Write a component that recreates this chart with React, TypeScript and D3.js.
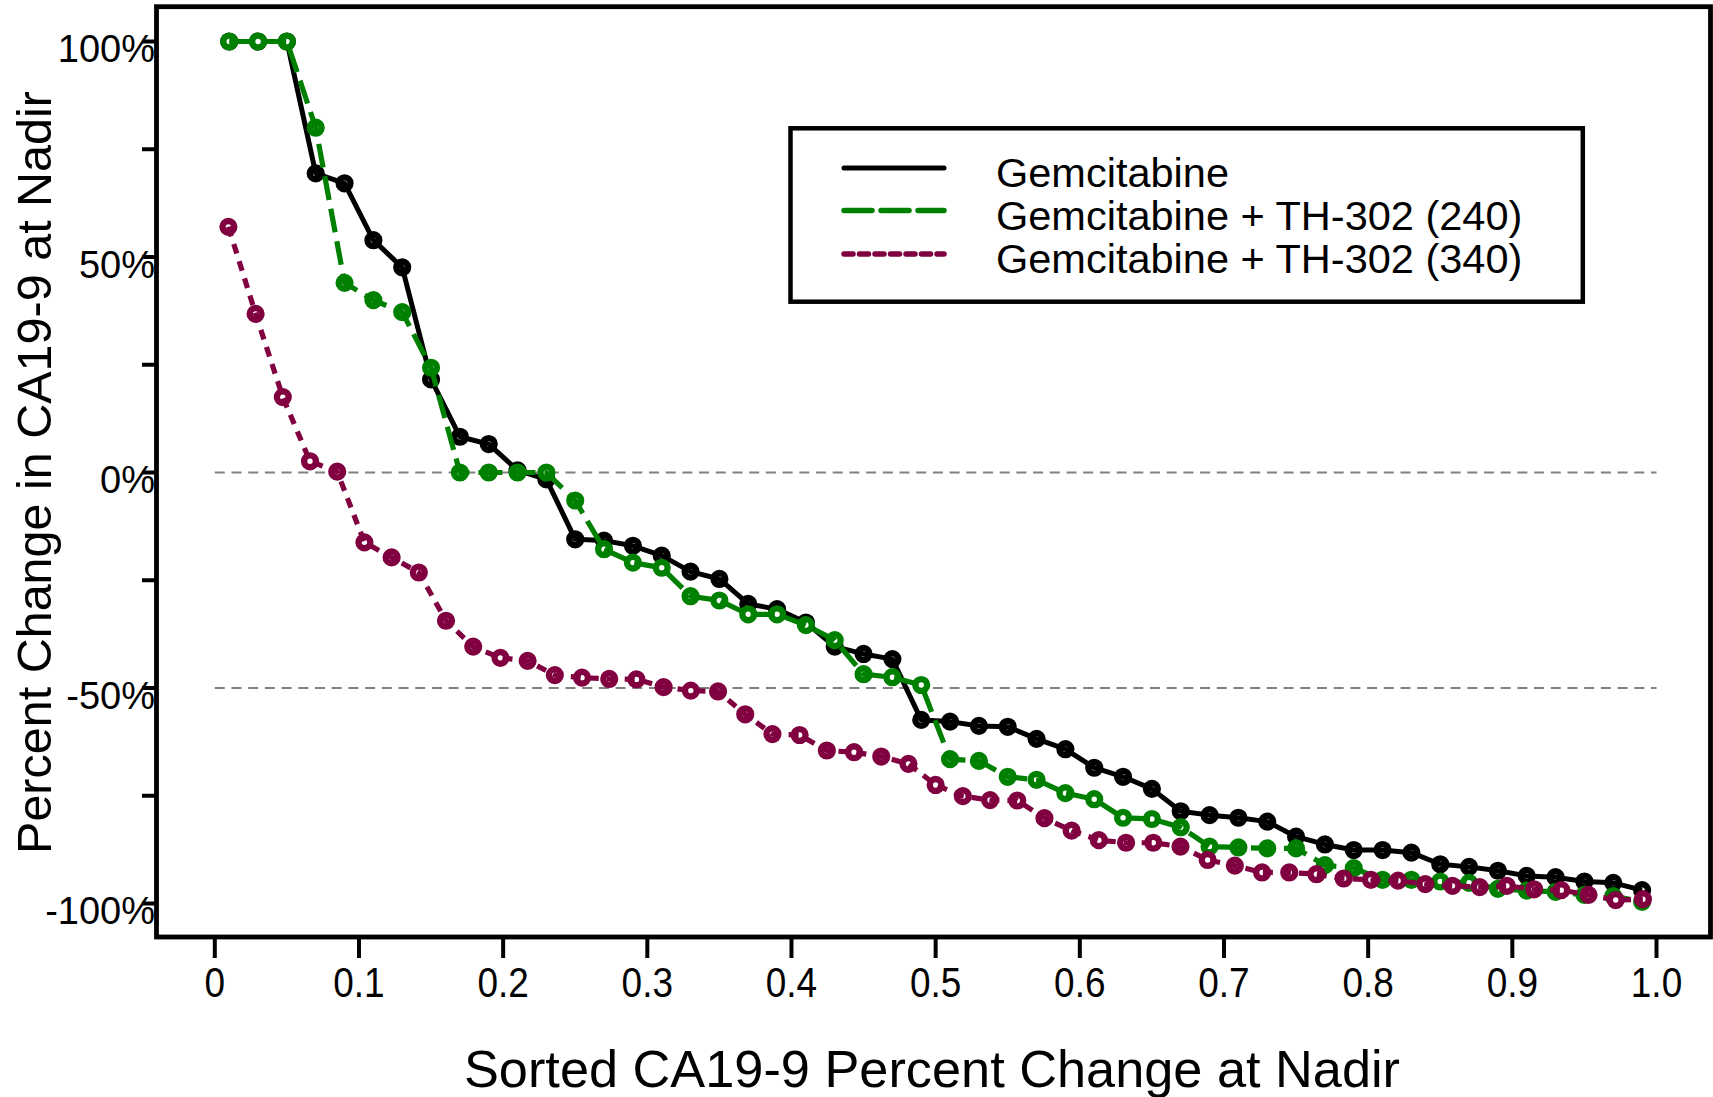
import React from 'react';
import * as d3 from 'd3';

const W = 1713;
const H = 1097;

const xTickValues = [0, 0.1, 0.2, 0.3, 0.4, 0.5, 0.6, 0.7, 0.8, 0.9, 1.0];
const xTickLabels = ['0', '0.1', '0.2', '0.3', '0.4', '0.5', '0.6', '0.7', '0.8', '0.9', '1.0'];
const yTickValues = [100, 75, 50, 25, 0, -25, -50, -75, -100];
const yLabelValues = [100, 50, 0, -50, -100];
const yLabelTexts = ['100%', '50%', '0%', '-50%', '-100%'];
const refLines = [0, -50];

const seriesNames = ['Gemcitabine', 'Gemcitabine + TH-302 (240)', 'Gemcitabine + TH-302 (340)'];
const seriesColors = ['#000000', '#008000', '#800040'];

const gemcitabine = [
  100, 100, 100, 69.4, 67.1, 53.9, 47.6, 21.6, 8.3, 6.6,
  0.5, -1.6, -15.5, -15.8, -17.0, -19.3, -23.0, -24.7, -30.5, -31.7,
  -34.8, -40.4, -42.1, -43.3, -57.4, -57.8, -58.8, -59.0, -61.8, -64.2,
  -68.5, -70.6, -73.4, -78.6, -79.5, -80.1, -81.0, -84.5, -86.3, -87.6,
  -87.6, -88.2, -90.9, -91.5, -92.4, -93.6, -93.9, -94.9, -95.2, -96.9,
];

const th302_240 = [
  100, 100, 100, 80.0, 44.0, 40.0, 37.2, 24.3, 0, 0,
  0, 0, -6.5, -17.8, -20.9, -22.1, -28.7, -29.7, -32.9, -32.9,
  -35.4, -38.9, -46.8, -47.5, -49.3, -66.5, -66.9, -70.6, -71.3, -74.4,
  -75.8, -80.1, -80.4, -82.3, -86.8, -87.0, -87.2, -87.2, -91.1, -91.8,
  -94.5, -94.5, -94.9, -95.2, -96.6, -97.0, -97.3, -98.0, -98.3, -99.6,
];

const th302_340 = [
  57.0, 36.8, 17.5, 2.6, 0.2, -16.2, -19.7, -23.2, -34.4, -40.4,
  -43.0, -43.7, -47.0, -47.6, -47.9, -48.0, -49.8, -50.6, -50.8, -56.1,
  -60.7, -60.9, -64.5, -64.9, -65.9, -67.6, -72.5, -75.1, -76.0, -76.1,
  -80.2, -83.1, -85.3, -85.9, -85.9, -86.8, -89.9, -91.2, -92.8, -92.8,
  -93.2, -94.2, -94.5, -94.7, -95.5, -95.9, -96.2, -95.9, -96.7, -96.9,
  -98.0, -99.2, -99.0,
];

const seriesData = [gemcitabine, th302_240, th302_340];
const plotDash = ['none', '24 9', '10 8'];
const legendDash = ['none', '28 9', '9 6.5'];

const FONT = '"Liberation Sans", Arial, Helvetica, sans-serif';

export default function App() {
  const x = d3.scaleLinear().domain([0, 1]).range([214.8, 1656.5]);
  const y = d3.scaleLinear().domain([-100, 100]).range([903.5, 41.5]);

  const frame = { left: 156.5, top: 6.7, right: 1710.5, bottom: 937 };

  const lineFor = (vals: number[]) => {
    const n = vals.length;
    return d3
      .line<number>()
      .x((_, i) => x((i + 0.5) / n))
      .y((d) => y(d))(vals) as string;
  };

  const legend = { x: 790.5, y: 128.3, w: 792.3, h: 173.4 };
  const legendRows = [168, 210.5, 254];
  const legendBaselines = [187, 230, 273];

  return (
    <svg
      width={W}
      height={H}
      viewBox={`0 0 ${W} ${H}`}
      style={{ position: 'absolute', left: 0, top: 0, background: '#fff' }}
      fontFamily={FONT}
    >
      <rect x={0} y={0} width={W} height={H} fill="#fff" />

      {/* reference dashed lines */}
      {refLines.map((v) => (
        <line
          key={`ref${v}`}
          x1={x(0)}
          x2={x(1)}
          y1={y(v)}
          y2={y(v)}
          stroke="#808080"
          strokeWidth={2.2}
          strokeDasharray="10 6.7"
        />
      ))}

      {/* series */}
      {seriesData.map((vals, si) => {
        const n = vals.length;
        return (
          <g key={`s${si}`}>
            {vals.map((v, i) => (
              <circle
                key={i}
                cx={x((i + 0.5) / n)}
                cy={y(v)}
                r={5.9}
                fill="#fff"
                stroke={seriesColors[si]}
                strokeWidth={6.4}
              />
            ))}
            <path
              d={lineFor(vals)}
              fill="none"
              stroke={seriesColors[si]}
              strokeWidth={si === 0 ? 5 : 5.2}
              strokeDasharray={plotDash[si]}
              strokeLinejoin="round"
            />
          </g>
        );
      })}

      {/* frame */}
      <rect
        x={frame.left}
        y={frame.top}
        width={frame.right - frame.left}
        height={frame.bottom - frame.top}
        fill="none"
        stroke="#000"
        strokeWidth={4.8}
      />

      {/* y ticks */}
      {yTickValues.map((v) => (
        <line key={`yt${v}`} x1={142} x2={frame.left} y1={y(v)} y2={y(v)} stroke="#000" strokeWidth={4} />
      ))}
      {yLabelValues.map((v, i) => (
        <text key={`yl${v}`} x={155} y={y(v) + 20.5} textAnchor="end" fontSize={38} fill="#000">
          {yLabelTexts[i]}
        </text>
      ))}

      {/* x ticks */}
      {xTickValues.map((v) => (
        <line key={`xt${v}`} x1={x(v)} x2={x(v)} y1={frame.bottom} y2={958} stroke="#000" strokeWidth={4} />
      ))}
      {xTickValues.map((v, i) => (
        <text
          key={`xl${v}`}
          transform={`translate(${x(v)},997) scale(0.86,1)`}
          textAnchor="middle"
          fontSize={43}
          fill="#000"
        >
          {xTickLabels[i]}
        </text>
      ))}

      {/* axis titles */}
      <text x={932} y={1087} textAnchor="middle" fontSize={52.3} fill="#000">
        Sorted CA19-9 Percent Change at Nadir
      </text>
      <text transform="translate(51,472.5) rotate(-90)" textAnchor="middle" fontSize={48.5} fill="#000">
        Percent Change in CA19-9 at Nadir
      </text>

      {/* legend */}
      <rect x={legend.x} y={legend.y} width={legend.w} height={legend.h} fill="#fff" stroke="#000" strokeWidth={4.5} />
      {seriesNames.map((name, i) => (
        <g key={`lg${i}`}>
          <line
            x1={844}
            x2={944}
            y1={legendRows[i]}
            y2={legendRows[i]}
            stroke={seriesColors[i]}
            strokeWidth={i === 0 ? 5 : 5.5}
            strokeDasharray={legendDash[i]}
            strokeLinecap="round"
          />
          <text x={996} y={legendBaselines[i]} fontSize={41.5} fill="#000">
            {name}
          </text>
        </g>
      ))}
    </svg>
  );
}
